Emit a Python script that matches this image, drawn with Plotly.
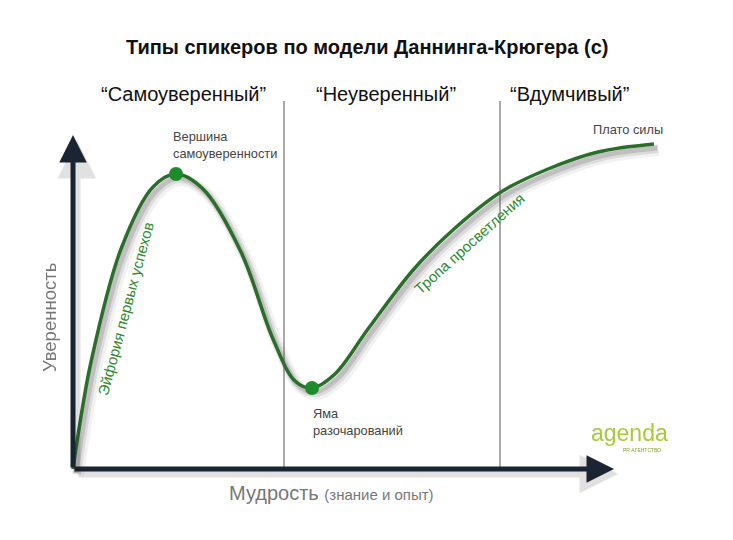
"""Кривая Даннинга-Крюгера: типы спикеров."""

import numpy as np
import plotly.graph_objects as go

# точки кривой (мудрость, уверенность)
wisdom = [0, 6, 18, 48, 80, 103, 130, 168, 200, 222, 239,
          262, 295, 341, 381, 428, 475, 525, 581]
confidence = [0, 40, 107, 220, 282, 295, 280, 217, 130, 88, 81,
              95, 140, 200, 240, 277, 300, 317, 325]

# ключевые точки
key_x = [103, 239]
key_y = [295, 81]

# границы зон
zone_bounds = [211, 427]
zone_top = 368
zone_names = ["\u201cСамоуверенный\u201d", "\u201cНеуверенный\u201d", "\u201cВдумчивый\u201d"]
zone_label_x = [110, 313, 496]

x_end = 541
y_end = 334

FONT = "Liberation Sans, Arial, sans-serif"
GREEN = "#2b6e2b"
DOT = "#1f8a2a"
AXIS = "#1b2433"

fig = go.Figure()

wx = np.array(wisdom, dtype=float)
cy = np.array(confidence, dtype=float)

# мягкая тень под кривой
for w, a, dx, dy in [(12, 0.05, 5, -6), (8, 0.09, 4, -5), (5, 0.13, 3, -4)]:
    fig.add_trace(go.Scatter(
        x=wx + dx, y=cy + dy, mode="lines",
        line=dict(color=f"rgba(0,0,0,{a})", width=w, shape="spline", smoothing=1.0),
        hoverinfo="skip", showlegend=False,
    ))

fig.add_trace(go.Scatter(
    x=wisdom, y=confidence, mode="lines",
    line=dict(color=GREEN, width=3.5, shape="spline", smoothing=1.0),
    hoverinfo="skip", showlegend=False,
))

fig.add_trace(go.Scatter(
    x=key_x, y=key_y, mode="markers",
    marker=dict(color=DOT, size=14),
    hoverinfo="skip", showlegend=False,
))

# вертикальные разделители
for xb in zone_bounds:
    fig.add_shape(type="line", x0=xb, x1=xb, y0=0, y1=zone_top,
                  line=dict(color="#555555", width=1))

# оси со стрелками (и тенью)
for ax_x, ax_y, tx, ty in [(0, 0, x_end, 0), (0, 0, 0, y_end)]:
    fig.add_annotation(x=tx + 4, y=ty - 5, ax=ax_x + 4, ay=ax_y - 5,
                       xref="x", yref="y", axref="x", ayref="y", text="",
                       showarrow=True, arrowhead=2, arrowsize=1.1,
                       arrowwidth=7, arrowcolor="rgba(0,0,0,0.12)")
    fig.add_annotation(x=tx, y=ty, ax=ax_x, ay=ax_y,
                       xref="x", yref="y", axref="x", ayref="y", text="",
                       showarrow=True, arrowhead=2, arrowsize=1.1,
                       arrowwidth=5, arrowcolor=AXIS)

# тексты
fig.add_annotation(x=294, y=422, text="<b>Типы спикеров по модели Даннинга-Крюгера (с)</b>",
                   showarrow=False, font=dict(family=FONT, size=20, color="#111111"))

for name, lx in zip(zone_names, zone_label_x):
    fig.add_annotation(x=lx, y=375, text=name, showarrow=False,
                       font=dict(family=FONT, size=20, color="#111111"))

note_font = dict(family=FONT, size=12.8, color="#444444")
fig.add_annotation(x=98, y=324, text="Вершина<br>самоуверенности", showarrow=False,
                   xanchor="left", align="left", font=note_font)
fig.add_annotation(x=518, y=340, text="Плато силы", showarrow=False,
                   xanchor="left", align="left", font=note_font)
fig.add_annotation(x=238, y=47, text="Яма<br>разочарований", showarrow=False,
                   xanchor="left", align="left", font=note_font)

fig.add_annotation(x=396, y=226, text="Тропа просветления", showarrow=False,
                   textangle=-42, font=dict(family=FONT, size=15, color="#2f8a2f"))
fig.add_annotation(x=52, y=160, text="Эйфория первых успехов", showarrow=False,
                   textangle=-75, font=dict(family=FONT, size=15, color="#2f8a2f"))

fig.add_annotation(x=-24, y=151, text="Уверенность", showarrow=False, textangle=-90,
                   font=dict(family=FONT, size=18.5, color="#777777"))
fig.add_annotation(x=258, y=-24,
                   text="Мудрость <span style='font-size:15px'>(знание и опыт)</span>",
                   showarrow=False, font=dict(family=FONT, size=20, color="#777777"))

fig.add_annotation(x=556, y=36, text="agenda", showarrow=False,
                   font=dict(family=FONT, size=23, color="#a9c93a"))
fig.add_annotation(x=569, y=19, text="PR АГЕНТСТВО", showarrow=False,
                   font=dict(family=FONT, size=5, color="#8aa030"))

# диапазоны с поправкой на отступ страницы
fig.update_xaxes(range=[-65, 668], visible=False, fixedrange=True)
fig.update_yaxes(range=[-79, 461], visible=False, fixedrange=True)
fig.update_layout(
    width=733, height=540,
    margin=dict(l=0, r=0, t=0, b=0),
    plot_bgcolor="white", paper_bgcolor="white",
    showlegend=False,
)

fig.write_html("out.html")
